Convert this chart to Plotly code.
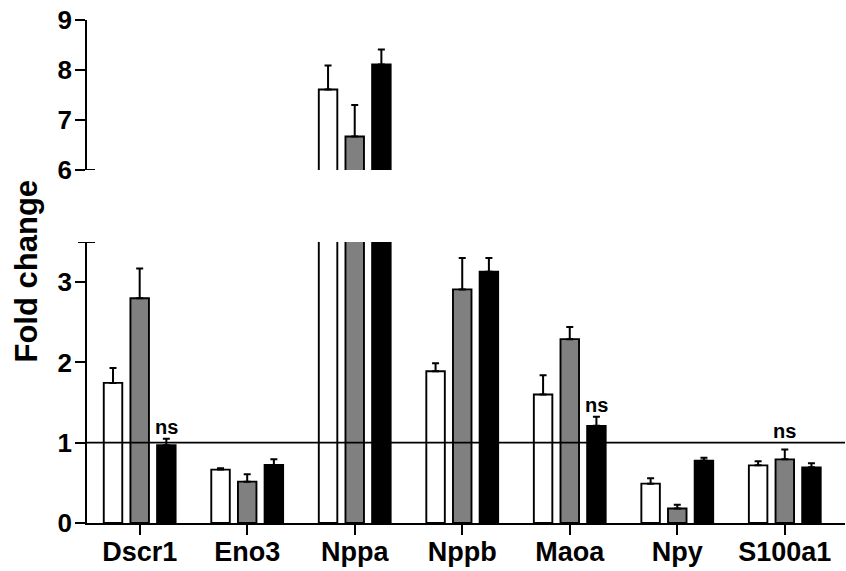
import plotly.graph_objects as go

# ---- data ----
genes = ["Dscr1", "Eno3", "Nppa", "Nppb", "Maoa", "Npy", "S100a1"]
series_names = ["Group 1", "Group 2", "Group 3"]
values_1 = [1.745, 0.665, 7.61, 1.89, 1.60, 0.49, 0.718]
errors_1 = [0.185, 0.017, 0.48, 0.10, 0.24, 0.066, 0.05]
values_2 = [2.80, 0.515, 6.67, 2.91, 2.29, 0.18, 0.793]
errors_2 = [0.37, 0.091, 0.63, 0.39, 0.15, 0.048, 0.121]
values_3 = [0.97, 0.723, 8.11, 3.13, 1.21, 0.777, 0.693]
errors_3 = [0.08, 0.07, 0.30, 0.17, 0.115, 0.037, 0.05]
ns_genes = ["Dscr1", "Maoa", "S100a1"]
ns_series = [2, 2, 1]
ns_y = [1.20, 1.47, 1.14]
reference_value = 1
lower_range = [0, 3.5]
upper_range = [6, 9]
lower_ticks = [0, 1, 2, 3]
upper_ticks = [6, 7, 8, 9]

fills = ["white", "#808080", "black"]
FONT = "Liberation Sans, Arial, sans-serif"

fig = go.Figure()
series = [(values_1, errors_1), (values_2, errors_2), (values_3, errors_3)]
for panel_x, panel_y in [("x", "y"), ("x2", "y2")]:
    for i, (vals, errs) in enumerate(series):
        fig.add_trace(go.Bar(
            x=genes, y=vals, name=series_names[i],
            xaxis=panel_x, yaxis=panel_y,
            marker=dict(color=fills[i], line=dict(color="black", width=1.9)),
            error_y=dict(type="data", symmetric=False, array=errs,
                         arrayminus=[0] * len(errs), color="black",
                         thickness=2, width=3.5),
            showlegend=False,
        ))

ax_common = dict(showline=True, linecolor="black", linewidth=1.8,
                 ticks="outside", ticklen=10, tickwidth=1.8, tickcolor="black",
                 showgrid=False, zeroline=False,
                 tickfont=dict(family=FONT, size=26, color="black", weight="bold"))

fig.update_layout(
    width=846, height=571,
    margin=dict(l=87, r=1, t=20, b=48),
    plot_bgcolor="white", paper_bgcolor="white",
    barmode="group", bargap=0.256, bargroupgap=0.306,
    xaxis=dict(domain=[0, 1], anchor="y", range=[-0.49, 6.56],
               showline=True, linecolor="black", linewidth=1.8,
               ticks="outside", ticklen=10, tickwidth=1.8, tickcolor="black",
               showgrid=False, automargin=False, ticklabelstandoff=-6,
               tickfont=dict(family=FONT, size=27, color="black", weight="bold")),
    xaxis2=dict(domain=[0, 1], anchor="y2", matches="x", visible=False),
    yaxis=dict(domain=[0, 0.5586], range=lower_range, tickvals=lower_ticks,
               automargin=False, ticklabelstandoff=-2, **ax_common),
    yaxis2=dict(domain=[0.7018, 1], range=upper_range, tickvals=upper_ticks,
                automargin=False, ticklabelstandoff=-2, **ax_common),
)

# reference line at fold change = 1
fig.add_shape(type="line", xref="paper", x0=0, x1=1, yref="y",
              y0=reference_value, y1=reference_value,
              line=dict(color="black", width=1.8), layer="above")

# axis break marks
for yref, yval in [("y", lower_range[1]), ("y2", upper_range[0])]:
    fig.add_shape(type="line", xref="paper", xsizemode="pixel", xanchor=0,
                  x0=-9, x1=8, yref=yref, y0=yval, y1=yval,
                  line=dict(color="black", width=2), layer="above")

# "ns" labels
offsets = [-0.248, 0.0, 0.248]
for g, s, yv in zip(ns_genes, ns_series, ns_y):
    fig.add_annotation(x=genes.index(g) + offsets[s], y=yv, xref="x", yref="y",
                       text="ns", showarrow=False, yanchor="middle",
                       font=dict(family=FONT, size=20, color="black", weight="bold"))

# y-axis title
fig.add_annotation(text="Fold change", xref="paper", yref="paper", x=0, y=0.5,
                   xshift=-61, xanchor="center", yanchor="middle",
                   textangle=-90, showarrow=False,
                   font=dict(family=FONT, size=31, color="black", weight="bold"))

fig.write_html("out.html", config={"displayModeBar": False},
               post_script="document.body.style.margin='0';document.body.style.overflow='hidden';")
